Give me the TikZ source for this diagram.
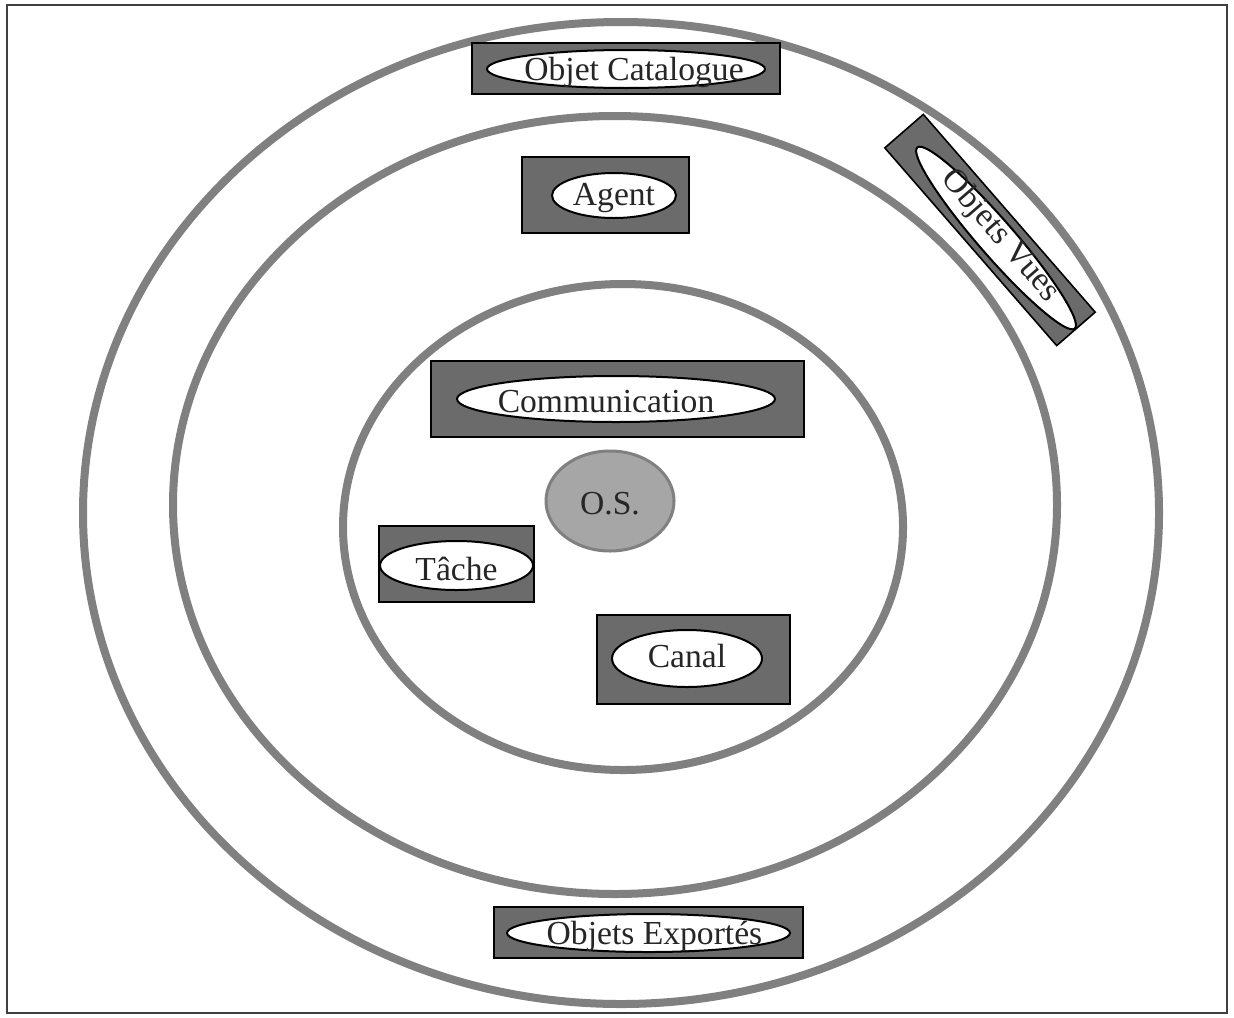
\documentclass[tikz,border=0pt]{standalone}
\usepackage{fontspec}
\setmainfont{Liberation Serif}
\usepackage{tikz}
\usetikzlibrary{positioning,shapes}

\begin{document}
\begin{tikzpicture}[x=0.5pt,y=-0.5pt,inner sep=0pt]
  \tikzstyle{ring}=[ellipse,draw=black!50,line width=4pt]
  \tikzstyle{box}=[rectangle,draw=black,fill=black!58,line width=0.8pt]
  \tikzstyle{lab}=[ellipse,draw=black,fill=white,line width=1pt]
  \tikzstyle{t}=[text=black!85,yshift=-1.5pt]
  \fontsize{16.8}{20}\selectfont
  \useasboundingbox(0,0)rectangle(1234,1017);
  \node[draw=black!75,line width=1pt,minimum width=610pt,minimum height=504pt](frame)at(617,509){};
  \foreach\n/\x/\y/\w/\h in{outer/621/513/538/491,middle/615/505/442/389,inner/623/527/280/243}{\node[ring,minimum width=\w pt,minimum height=\h pt](\n)at(\x,\y){};}
  % objets du catalogue et exportes
  \node[box,minimum width=154pt,minimum height=25.5pt](catbox)at(626,68.5){};
  \node[lab,minimum width=139pt,minimum height=19pt](cat)at(626,69){};
  \node[t,xshift=4pt](catT)at(cat){Objet Catalogue};
  \node[box,minimum width=154.5pt,minimum height=25.5pt](expbox)at(648.5,932.5){};
  \node[lab,minimum width=141.5pt,minimum height=19pt](exp)at(648.5,933){};
  \node[t,xshift=3pt](expT)at(exp){Objets Exportés};
  \node[box,rotate=-49,minimum width=131pt,minimum height=25.5pt](vuebox)at(990,230){};
  \node[lab,rotate=-49,minimum width=120pt,minimum height=18pt](vue)at(996,238){};
  \node[text=black!85,rotate=-49](vueT)at(1000,236){Objets Vues};
  % anneau du milieu
  \node[box,minimum width=83.5pt,minimum height=38pt](agbox)at(605.5,195){};
  \node[lab,minimum width=62pt,minimum height=22.5pt](ag)at(614,195.5){};
  \node[t](agT)at(ag){Agent};
  % noyau
  \node[box,minimum width=186.5pt,minimum height=38pt](combox)at(617.5,399){};
  \node[lab,minimum width=159pt,minimum height=23pt](com)at(616,399){};
  \node[t,xshift=-5pt](comT)at(com){Communication};
  \node[ellipse,draw=black!50,fill=black!35,line width=1.5pt,minimum width=64pt,minimum height=50pt](os)at(610,501){};
  \node[t](osT)at(os){O.S.};
  \node[box,minimum width=77.5pt,minimum height=38pt](tachebox)at(456.5,564){};
  \node[lab,minimum width=76.5pt,minimum height=24.5pt](tache)at(456.5,565.5){};
  \node[t](tacheT)at(tache){Tâche};
  \node[box,minimum width=96.5pt,minimum height=44.5pt](canbox)at(693.5,659.5){};
  \node[lab,minimum width=75pt,minimum height=28.5pt](can)at(687,658.5){};
  \node[text=black!85,yshift=1.5pt](canT)at(can){Canal};
\end{tikzpicture}
\end{document}
